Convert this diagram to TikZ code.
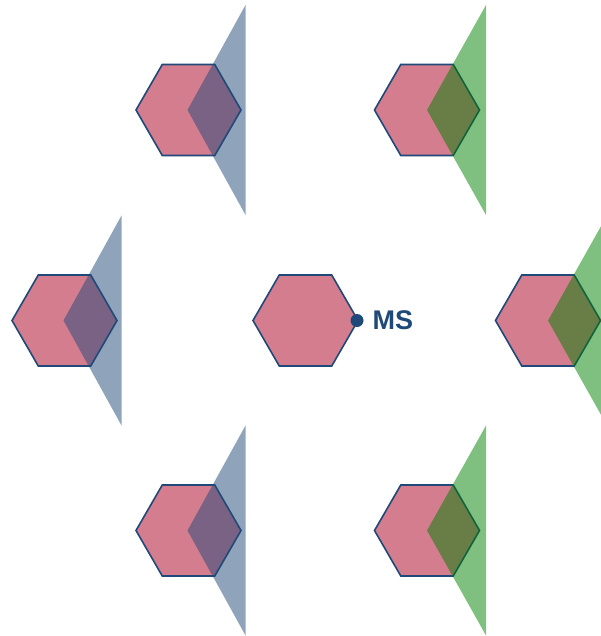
\documentclass[tikz,border=0pt]{standalone}
\usepackage{fontspec}
\setmainfont{Liberation Sans}
\definecolor{hexfill}{RGB}{212,125,143}
\definecolor{navy}{RGB}{31,73,120}
\definecolor{trigreen}{RGB}{0,128,0}
\begin{document}
\begin{tikzpicture}[x=1pt,y=-1pt,
  hexcell/.style={fill=hexfill,draw=navy,line width=1.6pt,line join=miter},
  bluesector/.style={fill=navy,fill opacity=0.5},
  greensector/.style={fill=trigreen,fill opacity=0.5}]
\useasboundingbox (0,0) rectangle (601,636);
\coordinate (tl) at (188.5,110);
\coordinate (tr) at (427,110);
\coordinate (ml) at (64.5,320.5);
\coordinate (mc) at (305.5,320.5);
\coordinate (mr) at (548,320.5);
\coordinate (bl) at (188.5,530.5);
\coordinate (br) at (427,530.5);
\foreach \c in {tl,tr,ml,mc,mr,bl,br}{
  \draw[hexcell] ([shift={(0:52.5)}]\c) -- ([shift={(60:52.5)}]\c) -- ([shift={(120:52.5)}]\c) -- ([shift={(180:52.5)}]\c) -- ([shift={(240:52.5)}]\c) -- ([shift={(300:52.5)}]\c) -- cycle;
}
\foreach \c in {tl,ml,bl}{
  \fill[bluesector] ([shift={(-1,0)}]\c) -- ([shift={(57,-105)}]\c) -- ([shift={(57,105)}]\c) -- cycle;
}
\foreach \c in {tr,mr,br}{
  \fill[greensector] ([shift={(0,0)}]\c) -- ([shift={(59,-105)}]\c) -- ([shift={(59,105)}]\c) -- cycle;
}
\node[circle,fill=navy,minimum size=13pt,inner sep=0pt] (msdot) at ([shift={(0:51.5)}]mc) {};
\node[anchor=west,inner sep=0pt,text=navy,font=\bfseries\fontsize{27}{27}\selectfont] (mslabel) at (372.5,320) {MS};
\end{tikzpicture}
\end{document}
